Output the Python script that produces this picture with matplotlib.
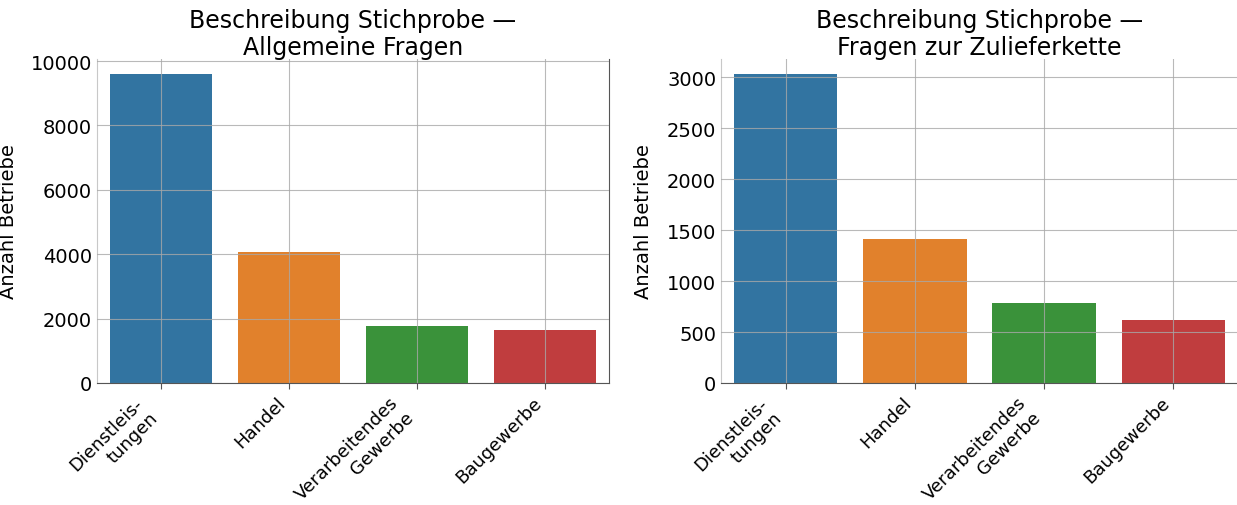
import matplotlib
matplotlib.use("Agg")
import matplotlib.pyplot as plt

categories = ["Dienstleis-\ntungen", "Handel", "Verarbeitendes\nGewerbe", "Baugewerbe"]
allgemein = [9590, 4085, 1762, 1648]
zuliefer = [3028, 1417, 781, 620]
colors = ["#3274a1", "#e1812c", "#3a923a", "#c03d3e"]
titles = ["Beschreibung Stichprobe —\nAllgemeine Fragen",
          "Beschreibung Stichprobe —\nFragen zur Zulieferkette"]
ylabel = "Anzahl Betriebe"

plt.rcParams['font.family'] = ['DejaVu Sans']
fig = plt.figure(figsize=(12.37, 5.06), dpi=100)
W, H = 1237, 506
ax1 = fig.add_axes([97 / W, (H - 384) / H, 512 / W, 324 / H])
ax2 = fig.add_axes([721 / W, (H - 384) / H, 517 / W, 324 / H])

for ax, vals, title in [(ax1, allgemein, titles[0]), (ax2, zuliefer, titles[1])]:
    x = list(range(len(categories)))
    ax.bar(x, vals, width=0.8, color=colors, zorder=1)
    ax.set_xlim(-0.5, len(categories) - 0.5)
    ax.set_xticks(x)
    ax.set_xticklabels(categories, rotation=45, ha="right", fontsize=13)
    ax.tick_params(axis="y", labelsize=14)
    ax.tick_params(axis="x", length=4, color="#555555")
    ax.tick_params(axis="y", length=0)
    ax.set_ylabel(ylabel, fontsize=14)
    ax.set_title(title, fontsize=17, pad=3, linespacing=1.15)
    ax.grid(True, color="#a8a8a8", linewidth=0.8, alpha=0.8, zorder=2)
    ax.set_axisbelow(False)
    ax.spines["top"].set_visible(False)
    ax.spines["left"].set_color("#c8c8c8")
    ax.spines["bottom"].set_color("#555555")
    ax.spines["right"].set_color("#555555")

ax1.set_ylim(0, 10066)
ax1.set_yticks([0, 2000, 4000, 6000, 8000, 10000])
ax2.set_ylim(0, 3180)
ax2.set_yticks([0, 500, 1000, 1500, 2000, 2500, 3000])
ax1.yaxis.set_label_coords(-0.154, 0.5)
ax2.yaxis.set_label_coords(-0.132, 0.5)

fig.savefig("out.png", dpi=100)
